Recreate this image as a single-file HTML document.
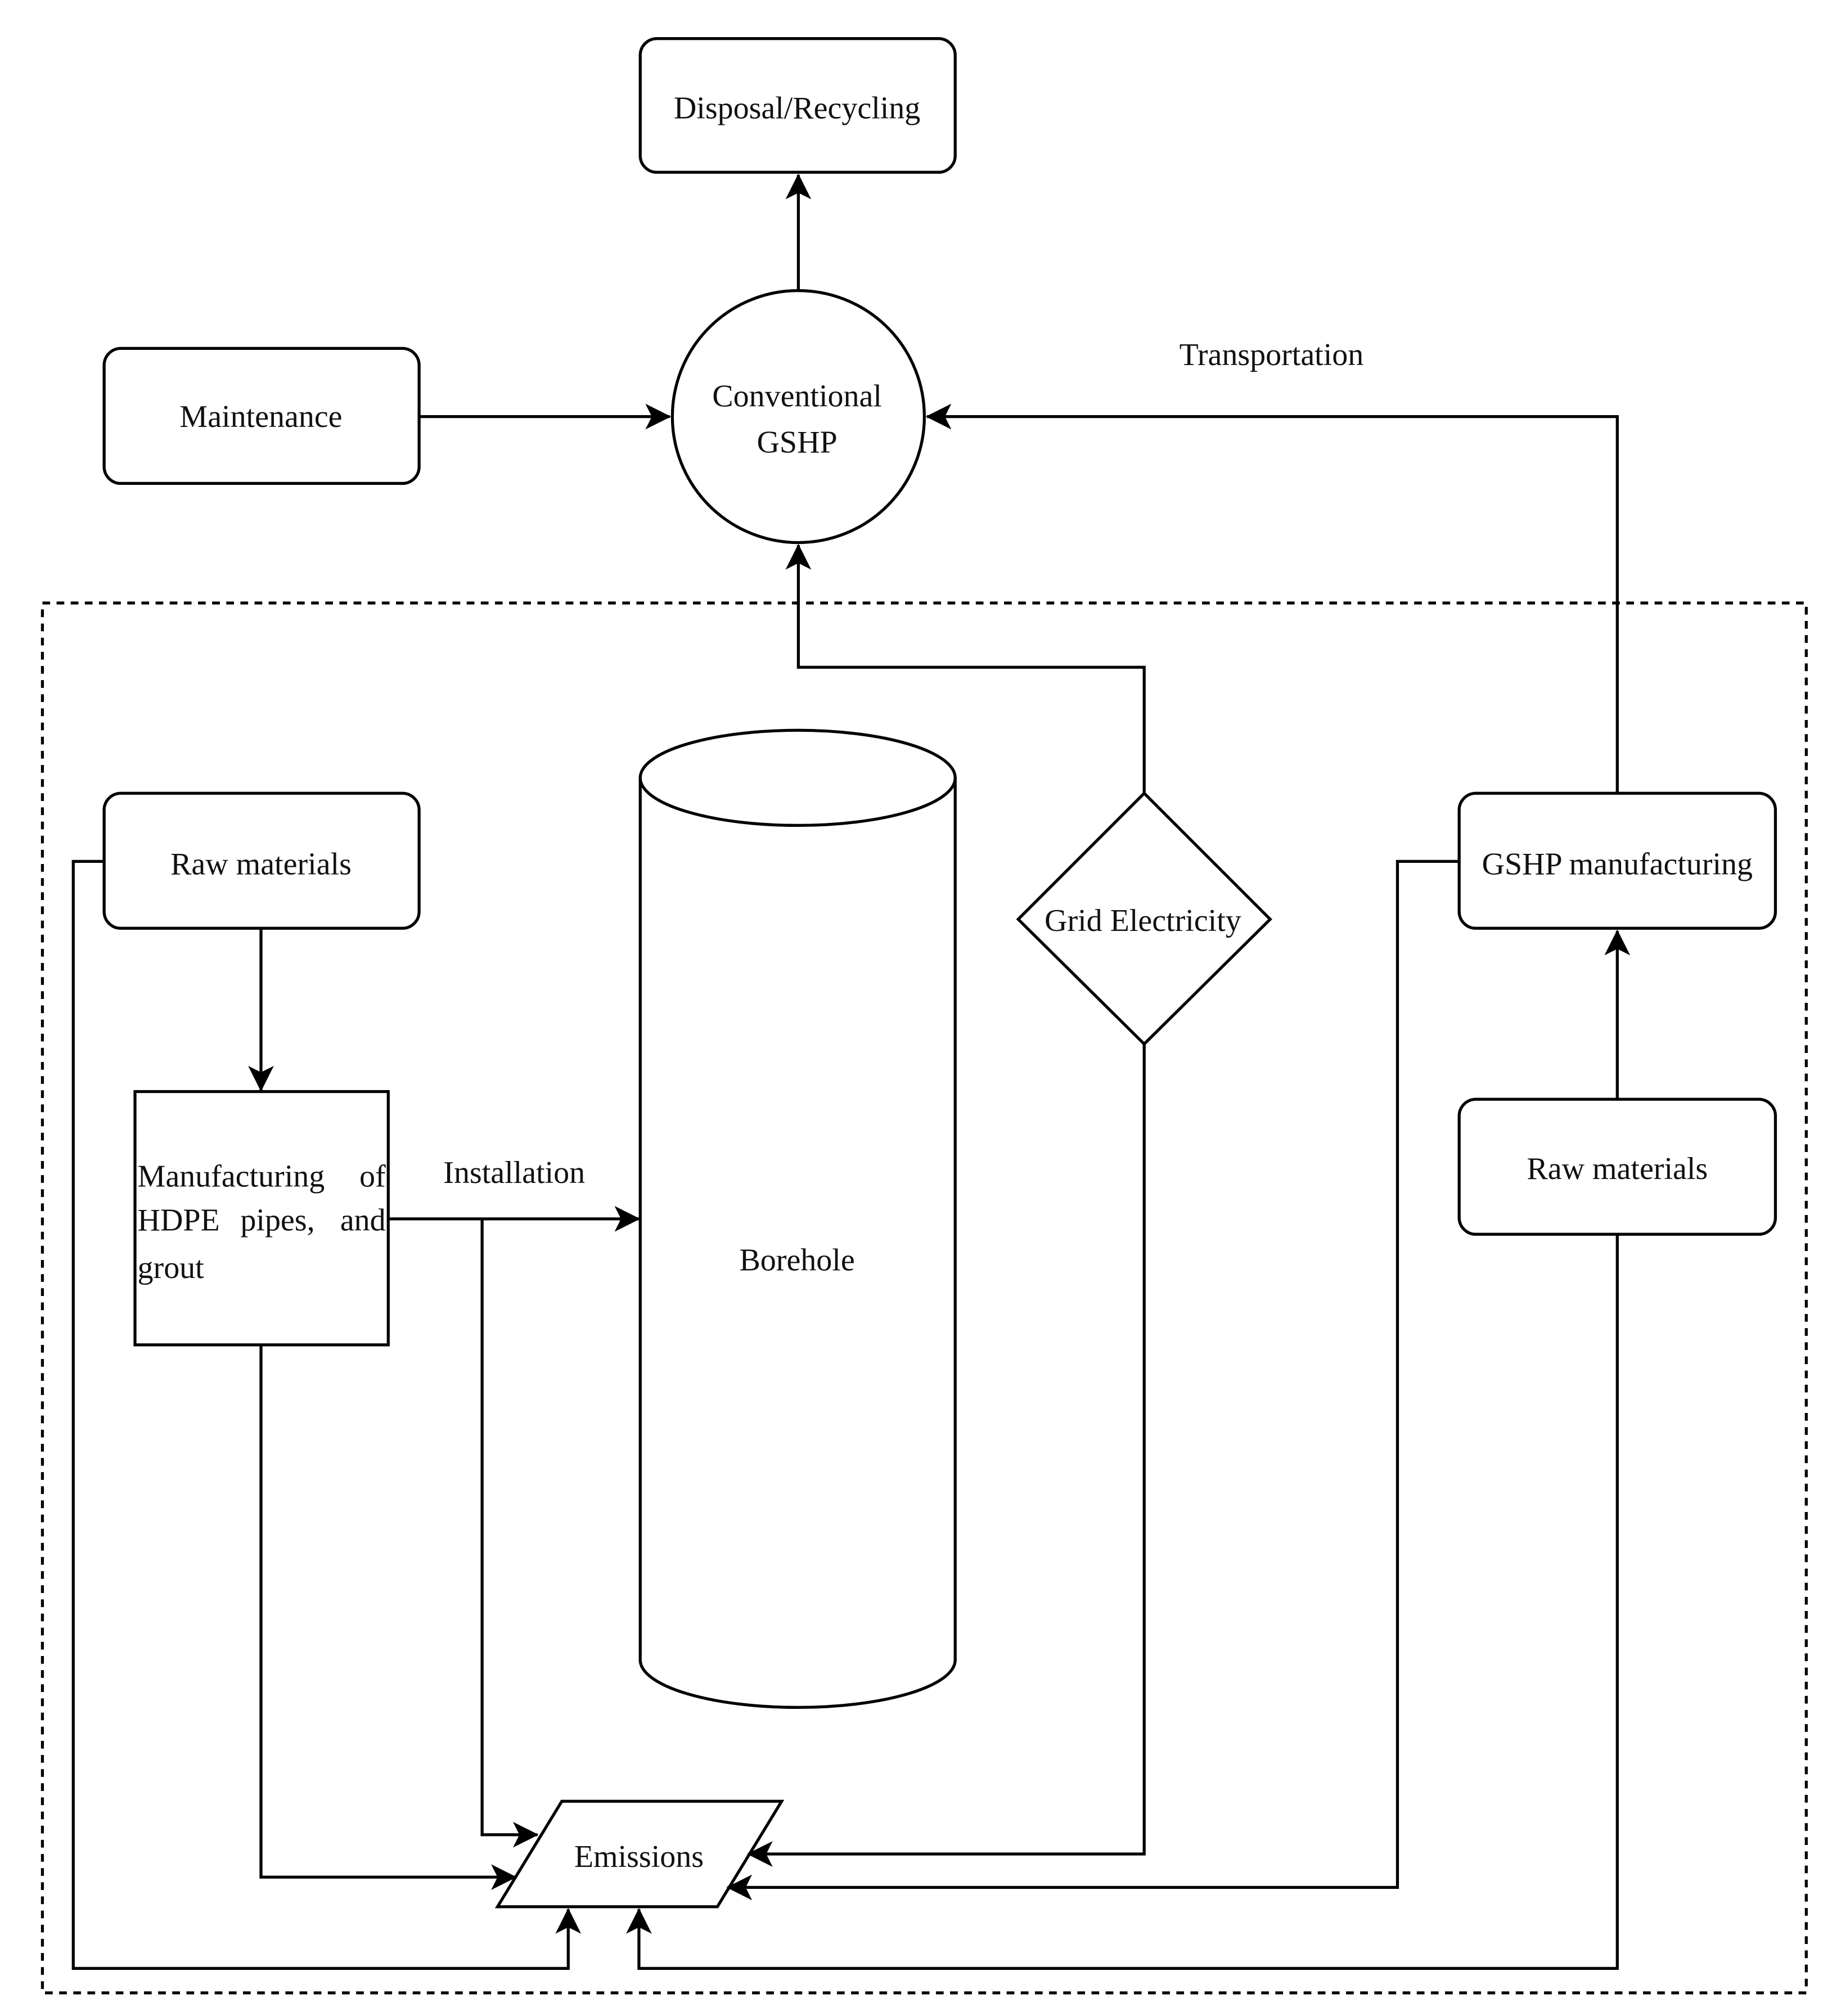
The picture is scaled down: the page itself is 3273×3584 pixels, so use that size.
<!DOCTYPE html>
<html><head><meta charset="utf-8"><style>
html,body{margin:0;padding:0;background:#fff;}
svg{display:block;}
text{font-family:"Liberation Serif",serif;font-size:24.5px;fill:#111;}
</style></head><body>
<svg width="3273" height="3584" viewBox="0 0 1432 1568" preserveAspectRatio="none" xmlns="http://www.w3.org/2000/svg">
<defs>
<marker id="a" viewBox="0 0 20 20" refX="19" refY="10" markerWidth="22" markerHeight="20" markerUnits="userSpaceOnUse" orient="auto">
<path d="M0,0 L20,10 L0,20 L5,10 Z" fill="#000"/>
</marker>
</defs>
<g fill="none" stroke="#000" stroke-width="2.3">
<rect x="33" y="469" width="1372" height="1081" stroke-dasharray="6,5"/>
<rect x="498" y="30" width="245" height="104" rx="13" fill="#fff"/>
<rect x="81" y="271" width="245" height="105" rx="13" fill="#fff"/>
<circle cx="621" cy="324" r="98" fill="#fff"/>
<rect x="81" y="617" width="245" height="105" rx="13" fill="#fff"/>
<rect x="1135" y="617" width="246" height="105" rx="13" fill="#fff"/>
<rect x="1135" y="855" width="246" height="105" rx="13" fill="#fff"/>
<rect x="105" y="849" width="197" height="197" fill="#fff"/>
<path d="M890,617 L988,715 L890,812 L792,715 Z" fill="#fff"/>
<path d="M498,605 L498,1291 A122.5,37 0 0 0 743,1291 L743,605" fill="#fff"/>
<ellipse cx="620.5" cy="605" rx="122.5" ry="37" fill="#fff"/>
<path d="M437,1401 L608,1401 L558,1483 L387,1483 Z" fill="#fff"/>
<path d="M621,226 L621,136" marker-end="url(#a)"/>
<path d="M326,324 L521,324" marker-end="url(#a)"/>
<path d="M1258,617 L1258,324 L721,324" marker-end="url(#a)"/>
<path d="M890,617 L890,519 L621,519 L621,424" marker-end="url(#a)"/>
<path d="M203,722 L203,848" marker-end="url(#a)"/>
<path d="M302,948 L497,948" marker-end="url(#a)"/>
<path d="M375,948 L375,1427 L418,1427" marker-end="url(#a)"/>
<path d="M203,1046 L203,1460 L401,1460" marker-end="url(#a)"/>
<path d="M81,670 L57,670 L57,1531 L442,1531 L442,1485" marker-end="url(#a)"/>
<path d="M890,812 L890,1442 L582,1442" marker-end="url(#a)"/>
<path d="M1135,670 L1087,670 L1087,1468 L566,1468" marker-end="url(#a)"/>
<path d="M1258,855 L1258,724" marker-end="url(#a)"/>
<path d="M1258,960 L1258,1531 L497,1531 L497,1485" marker-end="url(#a)"/>
</g>
<text x="620" y="92" text-anchor="middle">Disposal/Recycling</text>
<text x="203" y="332" text-anchor="middle">Maintenance</text>
<text x="620" y="316" text-anchor="middle">Conventional</text>
<text x="620" y="352" text-anchor="middle">GSHP</text>
<text x="989" y="284" text-anchor="middle">Transportation</text>
<text x="203" y="680" text-anchor="middle">Raw materials</text>
<text x="1258" y="680" text-anchor="middle">GSHP manufacturing</text>
<text x="1258" y="917" text-anchor="middle">Raw materials</text>
<text x="889" y="724" text-anchor="middle">Grid Electricity</text>
<text x="620" y="988" text-anchor="middle">Borehole</text>
<text x="400" y="920" text-anchor="middle">Installation</text>
<text x="497" y="1452" text-anchor="middle">Emissions</text>
<text x="107" y="923">Manufacturing</text><text x="300" y="923" text-anchor="end">of</text>
<text x="107" y="957">HDPE</text><text x="187" y="957">pipes,</text><text x="300" y="957" text-anchor="end">and</text>
<text x="107" y="994">grout</text>
</svg>
</body></html>
